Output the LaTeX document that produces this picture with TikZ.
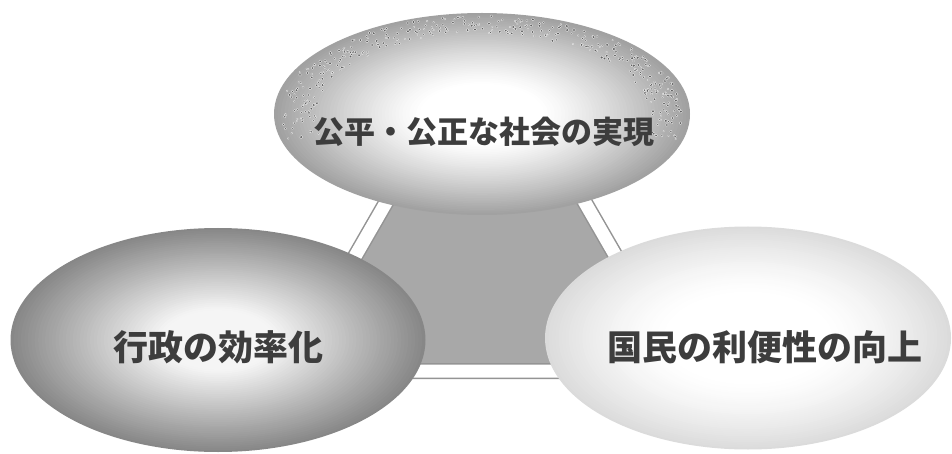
\documentclass[tikz,border=0pt]{standalone}
\usepackage{fontspec}
\newfontfamily\cjk{Noto Sans CJK JP}
\usetikzlibrary{shapes.geometric}
\definecolor{topedge}{gray}{0.63}
\definecolor{leftedge}{gray}{0.53}
\definecolor{leftin}{gray}{0.96}
\definecolor{rightedge}{gray}{0.86}
\definecolor{trifill}{gray}{0.66}
\definecolor{trline}{gray}{0.58}
\definecolor{txt}{gray}{0.24}
\definecolor{speck}{gray}{0.38}
\tikzset{
  oval/.style={ellipse, inner sep=0pt},
  label text/.style={text=txt, font=\cjk\bfseries, inner sep=0pt},
}
% gradient ellipse: #1 center, #2 rx, #3 ry, #4 edge colour, #5 inner colour, #6 s0, #7 exponent
\newcommand{\gradoval}[7]{%
  \foreach \k in {0,...,59}{%
    \pgfmathsetmacro\ss{1-\k/60}%
    \pgfmathsetmacro\pp{100*(max(0,min(1,(\ss-#6)/(1-#6))))^(#7)}%
    \fill[#4!\pp!#5] (#1) ellipse ({#2*\ss*1pt} and {#3*\ss*1pt});
  }%
}
\begin{document}
\begin{tikzpicture}[x=1pt, y=-1pt]
\useasboundingbox (0,0) rectangle (952,454);
\fill[white] (0,0) rectangle (952,454);
% triangle behind
\coordinate (A) at (485.5,30);
\coordinate (B) at (289,371);
\coordinate (C) at (682,371);
\fill[trifill] (A)--(B)--(C)--cycle;
\draw[trline, line width=16pt, line join=miter] (A)--(B)--(C)--cycle;
\draw[white, line width=13pt, line join=miter] (A)--(B)--(C)--cycle;
% ellipses
\node[oval, minimum width=416pt, minimum height=202pt] (top) at (482,114) {};
\node[oval, minimum width=415pt, minimum height=224pt] (left) at (218,340) {};
\node[oval, minimum width=406pt, minimum height=223pt] (right) at (748,338) {};
\gradoval{top.center}{208}{101}{topedge}{white}{0.30}{1.2}
\gradoval{left.center}{207.5}{112}{leftedge}{leftin}{0.28}{1.0}
\gradoval{right.center}{203}{111.5}{rightedge}{white}{0.40}{1.4}
% speckles
\pgfmathsetseed{7}
\foreach \i in {1,...,420}{
  \pgfmathsetmacro\ang{-15+210*rnd}
  \pgfmathsetmacro\rad{0.80+0.17*rnd}
  \pgfmathsetmacro\sz{0.4+0.8*rnd}
  \fill[white] ({482+208*\rad*cos(\ang)},{114-101*\rad*sin(\ang)}) circle ({\sz+0.5pt});
  \fill[speck] ({482+208*\rad*cos(\ang)},{114-101*\rad*sin(\ang)}) circle ({\sz*1pt});
}
% texts
\node[label text, font=\cjk\bfseries\fontsize{31}{31}\selectfont] (toptxt) at (484,132) {公平・公正な社会の実現};
\node[label text, font=\cjk\bfseries\fontsize{35}{35}\selectfont] (lefttxt) at (218,347) {行政の効率化};
\node[label text, font=\cjk\bfseries\fontsize{35}{35}\selectfont] (righttxt) at (765,347) {国民の利便性の向上};
\end{tikzpicture}
\end{document}
